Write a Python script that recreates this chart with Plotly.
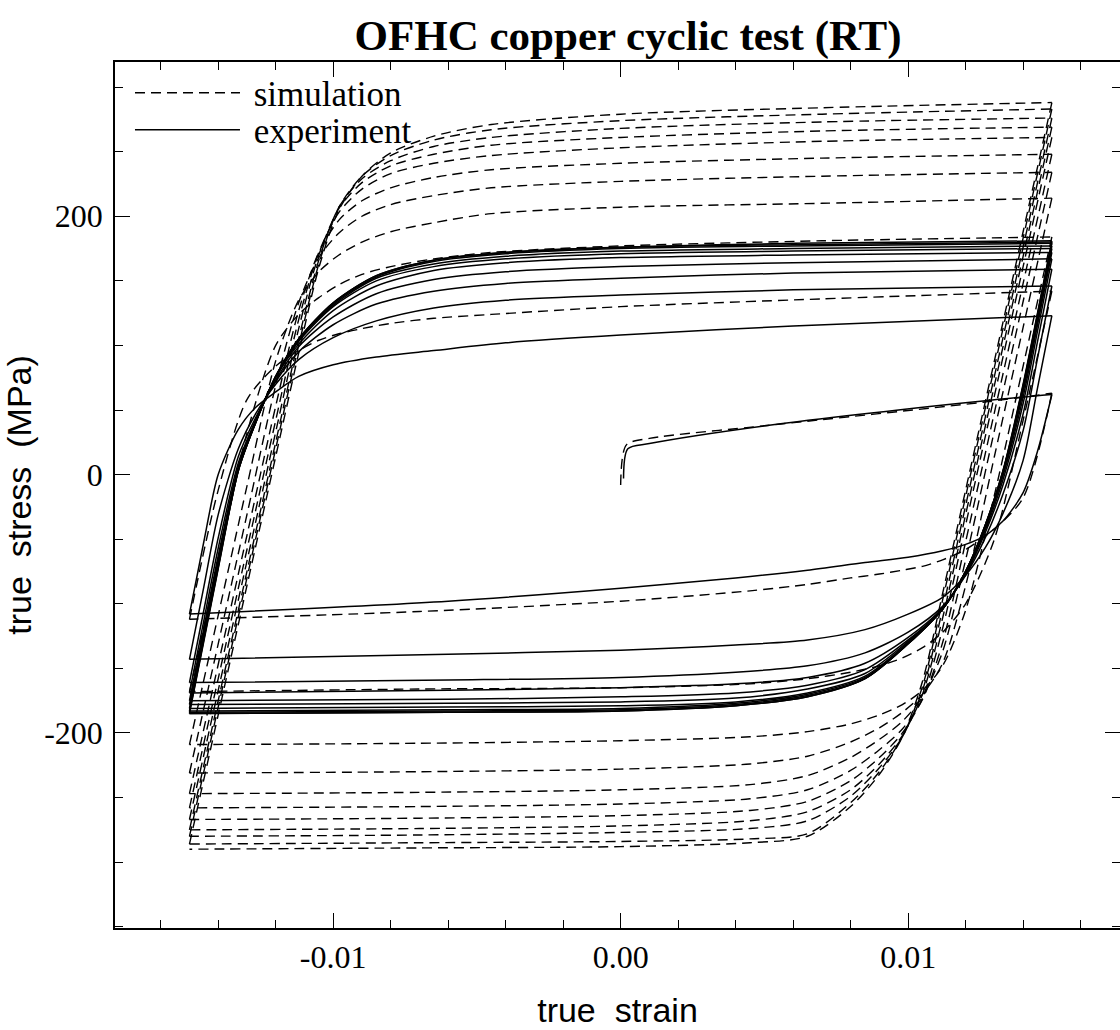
import plotly.graph_objects as go

# ---------------- data ----------------
# initial (monotonic) loading branch
EXP_INIT_STRAIN = [0.0001, 0.00025, 0.0010, 0.0051, 0.0126, 0.0150]
EXP_INIT_STRESS = [-3, 20, 24, 38, 57, 62]
SIM_INIT_STRAIN = [0.0000, 0.0002, 0.0010, 0.0051, 0.0126, 0.0150]
SIM_INIT_STRESS = [-8, 23, 28, 38, 56, 63]

# experiment: strain stations of the reversal branches
EXP_T_STRAIN = [-0.0150, -0.0145, -0.0140, -0.0133, -0.0127, -0.0120, -0.0112,
                -0.0100, -0.0085, -0.0065, -0.0040, 0.0000, 0.0060, 0.0150]
EXP_C_STRAIN = [0.0150, 0.0145, 0.0140, 0.0133, 0.0127, 0.0120, 0.0112,
                0.0100, 0.0085, 0.0065, 0.0040, 0.0000, -0.0060, -0.0150]

# experiment: compression half-cycles 1..11 (stress in MPa at EXP_C_STRAIN)
EXP_COMPRESSION = [
    [62, 18, -14, -36, -47, -54, -59, -64, -68, -74, -80, -88, -98, -108],
    [123, 67, 11, -30, -56, -78, -95, -108, -120, -128, -132, -136, -139, -143],
    [146, 90, 34, -15, -48, -78, -102, -122, -138, -148, -153, -157, -159, -161],
    [159, 103, 47, -8, -44, -77, -103, -126, -146, -157, -162, -165, -167, -169],
    [167, 111, 55, -4, -42, -76, -104, -128, -151, -163, -169, -172, -174, -175],
    [172, 116, 60, -1, -40, -76, -104, -129, -154, -166, -173, -176, -177, -178],
    [175, 119, 64, 1, -39, -75, -104, -130, -156, -169, -176, -179, -180, -181],
    [177, 121, 66, 2, -39, -75, -104, -130, -157, -170, -177, -181, -182, -183],
    [179, 123, 68, 2, -38, -75, -104, -131, -158, -171, -178, -182, -183, -184],
    [180, 124, 69, 3, -38, -75, -104, -131, -158, -172, -179, -183, -184, -185],
    [181, 125, 70, 3, -38, -75, -104, -131, -158, -172, -179, -183, -184, -185],
]
# experiment: tension half-cycles 2..11 (stress in MPa at EXP_T_STRAIN)
EXP_TENSION = [
    [-108, -52, 0, 35, 52, 64, 76, 85, 91, 96, 102, 108, 115, 123],
    [-143, -87, -31, 20, 47, 70, 89, 106, 119, 129, 135, 139, 143, 146],
    [-161, -105, -49, 14, 44, 72, 95, 116, 132, 142, 148, 152, 156, 159],
    [-169, -113, -57, 9, 42, 73, 99, 122, 140, 151, 157, 161, 164, 167],
    [-175, -119, -63, 6, 41, 75, 101, 127, 146, 158, 164, 168, 170, 172],
    [-178, -122, -66, 5, 41, 75, 103, 130, 150, 161, 167, 171, 173, 175],
    [-181, -125, -69, 4, 40, 76, 104, 131, 152, 163, 169, 173, 175, 177],
    [-183, -127, -71, 3, 40, 76, 105, 132, 153, 165, 171, 175, 177, 179],
    [-184, -128, -72, 3, 40, 76, 105, 133, 154, 166, 172, 176, 178, 180],
    [-185, -129, -73, 3, 40, 76, 105, 133, 154, 166, 172, 176, 179, 181],
]

# simulation: strain stations of the reversal branches
SIM_T_STRAIN = [-0.0150, -0.0140, -0.0130, -0.0120, -0.0112, -0.0105, -0.0098,
                -0.0090, -0.0080, -0.0065, -0.0045, 0.0000, 0.0070, 0.0150]
SIM_C_STRAIN = [0.0150, 0.0140, 0.0130, 0.0120, 0.0112, 0.0105, 0.0098,
                0.0090, 0.0080, 0.0065, 0.0045, 0.0000, -0.0070, -0.0150]

SIM_COMPRESSION = [
    [63, -18, -42, -58, -66, -71, -74, -77, -80, -85, -90, -98, -106, -112],
    [142, 42, -50, -100, -122, -134, -142, -148, -153, -158, -162, -165, -166, -168],
    [184, 84, -16, -105, -148, -167, -178, -186, -193, -199, -203, -206, -208, -209],
    [214, 114, 14, -86, -146, -170, -184, -196, -207, -218, -224, -228, -230, -231],
    [234, 134, 34, -66, -137, -172, -191, -205, -219, -233, -240, -244, -246, -247],
    [248, 148, 48, -52, -130, -174, -197, -213, -229, -244, -251, -255, -257, -258],
    [261, 161, 61, -39, -119, -173, -200, -219, -237, -253, -260, -264, -266, -267],
    [269, 169, 69, -31, -111, -170, -202, -224, -244, -261, -268, -272, -274, -275],
    [276, 176, 76, -24, -104, -167, -203, -227, -249, -268, -274, -277, -279, -280],
    [283, 183, 83, -17, -97, -164, -203, -230, -254, -278, -282, -284, -285, -286],
    [288, 188, 88, -12, -92, -160, -203, -232, -257, -280, -285, -288, -289, -290],
]
SIM_TENSION = [
    [-112, -12, 58, 84, 96, 104, 109, 113, 117, 121, 124, 130, 136, 142],
    [-168, -68, 32, 100, 124, 137, 147, 155, 161, 167, 172, 177, 181, 184],
    [-209, -109, -9, 88, 135, 157, 170, 180, 188, 195, 202, 207, 210, 214],
    [-231, -131, -31, 69, 133, 168, 187, 200, 209, 216, 222, 227, 231, 234],
    [-247, -147, -47, 53, 127, 172, 197, 212, 222, 230, 236, 241, 245, 248],
    [-258, -158, -58, 42, 120, 172, 203, 221, 233, 241, 247, 253, 258, 261],
    [-267, -167, -67, 33, 113, 170, 206, 226, 239, 248, 255, 261, 266, 269],
    [-275, -175, -75, 25, 105, 166, 207, 229, 243, 254, 261, 268, 273, 276],
    [-280, -180, -80, 20, 100, 163, 207, 231, 247, 259, 267, 274, 279, 283],
    [-286, -186, -86, 14, 94, 160, 205, 231, 249, 262, 271, 279, 284, 288],
]

X_TICKS = [-0.01, 0.0, 0.01]
X_TICK_TEXT = ["-0.01", "0.00", "0.01"]
X_MINOR = [-0.016, -0.014, -0.012, -0.008, -0.006, -0.004, -0.002,
           0.002, 0.004, 0.006, 0.008, 0.012, 0.014, 0.016]
Y_TICKS = [-200, 0, 200]
Y_TICK_TEXT = ["-200", "0", "200"]
Y_MINOR = [-350, -300, -250, -150, -100, -50, 50, 100, 150, 250, 300]


def chain(init_x, init_y, comp_x, comps, tens_x, tens):
    xs, ys = list(init_x) + [None], list(init_y) + [None]
    for k, c in enumerate(comps):
        xs += list(comp_x) + [None]
        ys += list(c) + [None]
        if k < len(tens):
            xs += list(tens_x) + [None]
            ys += list(tens[k]) + [None]
    return xs, ys


sx, sy = chain(SIM_INIT_STRAIN, SIM_INIT_STRESS, SIM_C_STRAIN, SIM_COMPRESSION,
               SIM_T_STRAIN, SIM_TENSION)
ex, ey = chain(EXP_INIT_STRAIN, EXP_INIT_STRESS, EXP_C_STRAIN, EXP_COMPRESSION,
               EXP_T_STRAIN, EXP_TENSION)

fig = go.Figure()
fig.add_trace(go.Scatter(
    x=sx, y=sy, mode="lines", name="\u00a0simulation", legend="legend",
    line=dict(color="black", width=1.4, dash="10px,6px", shape="spline", smoothing=0.8),
    connectgaps=False,
))
fig.add_trace(go.Scatter(
    x=ex, y=ey, mode="lines", name="\u00a0experiment", legend="legend2",
    line=dict(color="black", width=1.5, shape="spline", smoothing=0.8),
    connectgaps=False,
))

serif = "Liberation Serif"
sans = "Liberation Sans"
legend_common = dict(x=0.0149, xanchor="left", yanchor="middle",
                     bgcolor="rgba(0,0,0,0)", borderwidth=0, itemwidth=105,
                     font=dict(family=serif, size=35, color="black"))

fig.update_layout(
    width=1120, height=1030,
    margin=dict(l=115, r=0, t=62, b=102, autoexpand=False),
    paper_bgcolor="white", plot_bgcolor="white",
    title=dict(text="OFHC copper cyclic test (RT)", x=628 / 1120, xanchor="center",
               y=1 - 35 / 1030, yanchor="middle", xref="container", yref="container",
               font=dict(family=serif, size=43, color="black", weight="bold")),
    showlegend=True,
    legend=dict(y=(928 - 93) / 866, **legend_common),
    legend2=dict(y=(928 - 130) / 866, **legend_common),
)
fig.update_xaxes(
    range=[-0.01759, 0.01737], showgrid=False, zeroline=False,
    showline=True, linecolor="black", linewidth=1.5, mirror="allticks",
    ticks="inside", ticklen=15, tickwidth=1.4, tickcolor="black",
    tickmode="array", tickvals=X_TICKS, ticktext=X_TICK_TEXT,
    tickfont=dict(family=serif, size=32, color="black"),
    minor=dict(tickmode="array", tickvals=X_MINOR, ticks="inside", ticklen=8,
               tickwidth=1.3, tickcolor="black", showgrid=False),
    title=dict(text="true  strain", font=dict(family=sans, size=34, color="black"),
               standoff=24),
    automargin=False,
)
fig.update_yaxes(
    range=[-351, 319.4], showgrid=False, zeroline=False,
    showline=True, linecolor="black", linewidth=1.5, mirror="allticks",
    ticks="inside", ticklen=15, tickwidth=1.4, tickcolor="black",
    tickmode="array", tickvals=Y_TICKS, ticktext=Y_TICK_TEXT,
    tickfont=dict(family=serif, size=32, color="black"),
    minor=dict(tickmode="array", tickvals=Y_MINOR, ticks="inside", ticklen=8,
               tickwidth=1.3, tickcolor="black", showgrid=False),
    ticklabelstandoff=4,
    title=dict(text="true  stress  (MPa)", font=dict(family=sans, size=34, color="black"),
               standoff=12),
    automargin=False,
)

fig.write_html("out.html")
